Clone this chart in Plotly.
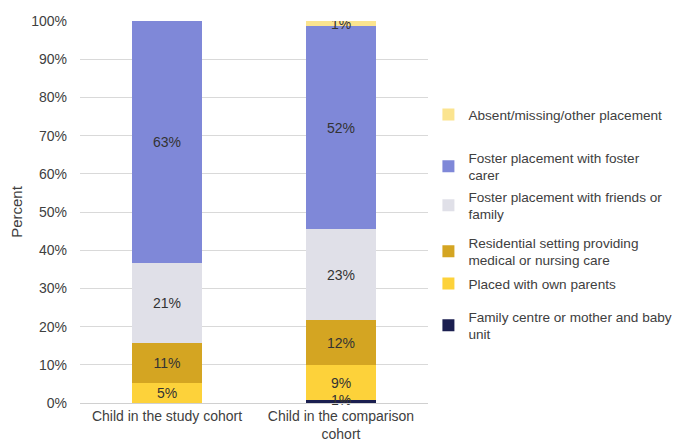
import plotly.graph_objects as go

categories = ["Child in the study cohort", "Child in the comparison<br>cohort"]

family_centre = [0.0, 0.8]
own_parents = [5.2, 8.9]
residential = [10.6, 11.6]
friends_family = [20.9, 23.4]
foster_carer = [63.3, 52.3]
absent_other = [0.0, 1.4]

series = [
    ("Family centre or mother and baby<br>unit", family_centre, "#1b1f50"),
    ("Placed with own parents", own_parents, "#fdd23a"),
    ("Residential setting providing<br>medical or nursing care", residential, "#d4a522"),
    ("Foster placement with friends or<br>family", friends_family, "#e0e0e8"),
    ("Foster placement with foster<br>carer", foster_carer, "#7f88d8"),
    ("Absent/missing/other placement", absent_other, "#fbe48f"),
]

# legend box tops (container fraction), listed in stack order (bottom first)
legend_tops = [0.331, 0.406, 0.500, 0.605, 0.694, 0.792]

totals = [sum(s[1][j] for s in series) for j in range(len(categories))]

fig = go.Figure()
legend_layout = {}
for i, (name, vals, color) in enumerate(series):
    lid = "legend" if i == 0 else f"legend{i + 1}"
    fig.add_trace(go.Bar(
        x=categories, y=vals, name=name, marker_color=color,
        marker_line_width=0,
        text=[f"{v:.0f}%" if v > 0 else "" for v in vals],
        textposition="inside", insidetextanchor="middle", textangle=0,
        textfont=dict(color="#333333", size=14),
        legend=lid,
    ))
    legend_layout[lid] = dict(
        xref="container", yref="container", x=0.621, y=legend_tops[i],
        xanchor="left", yanchor="top",
        font=dict(size=13.6, color="#404040"), itemwidth=30,
        bgcolor="rgba(0,0,0,0)",
    )

# label for the tiny bottom segment, which plotly hides inside the bar
fig.add_trace(go.Scatter(
    x=[c for c, v in zip(categories, family_centre) if v > 0],
    y=[v / t * 100 / 2 for v, t in zip(family_centre, totals) if v > 0],
    text=[f"{v:.0f}%" for v in family_centre if v > 0],
    mode="text", textfont=dict(color="#333333", size=14),
    showlegend=False, hoverinfo="skip", cliponaxis=False,
))

# the page body has an 8px margin, so the figure is drawn 8px smaller and offset
fig.update_layout(
    barmode="stack", barnorm="percent", bargap=0.6,
    width=677, height=438,
    margin=dict(l=72, r=257, t=13, b=43),
    plot_bgcolor="white", paper_bgcolor="white",
    font=dict(family="Liberation Sans, Arial, sans-serif", size=14, color="#404040"),
    uniformtext=dict(minsize=14, mode="show"),
    showlegend=True,
    **legend_layout,
)
fig.update_yaxes(
    range=[0, 100], dtick=10, ticksuffix="%", showgrid=True, gridcolor="#d9d9d9",
    zeroline=False, title=dict(text="Percent", standoff=10, font=dict(size=15)),
    tickfont=dict(size=14), ticklabelstandoff=12, automargin=False,
)
fig.update_xaxes(showline=True, linecolor="#d0d0d0", tickfont=dict(size=14), automargin=False)

fig.write_html("out.html")
